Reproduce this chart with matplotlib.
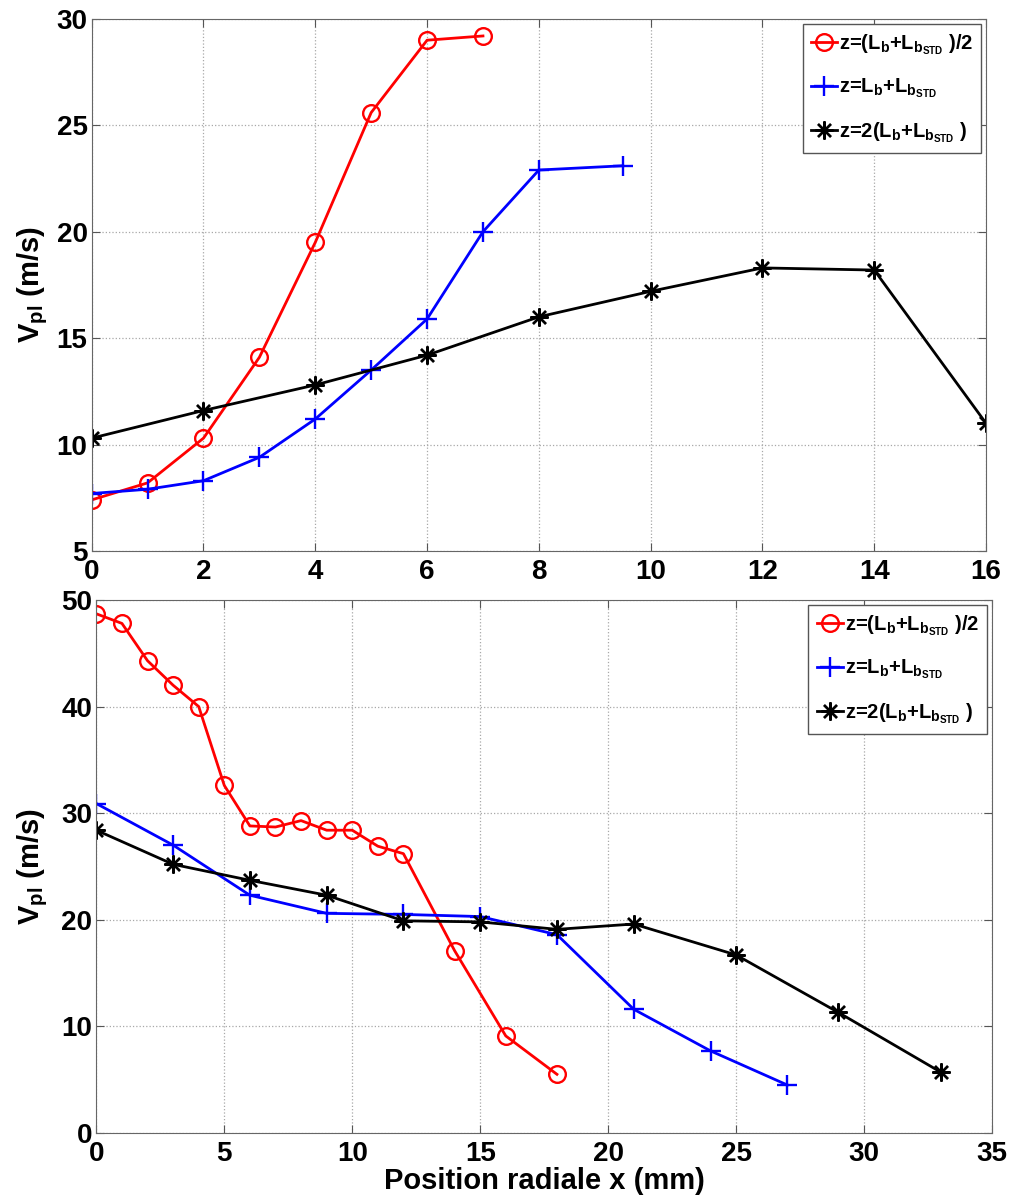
import matplotlib
matplotlib.use("Agg")
import matplotlib.pyplot as plt

plt.rcParams["font.family"] = ["Liberation Sans", "DejaVu Sans"]
plt.rcParams["font.weight"] = "bold"
plt.rcParams["mathtext.fontset"] = "custom"
plt.rcParams["mathtext.rm"] = "Liberation Sans:bold"
plt.rcParams["mathtext.it"] = "Liberation Sans:bold"
plt.rcParams["mathtext.bf"] = "Liberation Sans:bold"
plt.rcParams["mathtext.default"] = "rm"

# top panel data
x_top_red = [0, 1, 2, 3, 4, 5, 6, 7]
v_top_red = [7.4, 8.2, 10.3, 14.1, 19.5, 25.6, 29.0, 29.2]
x_top_blue = [0, 1, 2, 3, 4, 5, 6, 7, 8, 9.5]
v_top_blue = [7.7, 7.9, 8.3, 9.4, 11.2, 13.5, 15.9, 20.0, 22.9, 23.1]
x_top_black = [0, 2, 4, 6, 8, 10, 12, 14, 16]
v_top_black = [10.3, 11.6, 12.8, 14.2, 16.0, 17.2, 18.3, 18.2, 11.0]

# bottom panel data
x_bot_red = [0, 1, 2, 3, 4, 5, 6, 7, 8, 9, 10, 11, 12, 14, 16, 18]
v_bot_red = [48.7, 47.8, 44.3, 42.0, 40.0, 32.6, 28.8, 28.7, 29.3, 28.4, 28.4,
             26.9, 26.2, 17.1, 9.1, 5.5]
x_bot_blue = [0, 3, 6, 9, 12, 15, 18, 21, 24, 27]
v_bot_blue = [30.9, 27.0, 22.3, 20.6, 20.5, 20.3, 18.6, 11.6, 7.7, 4.5]
x_bot_black = [0, 3, 6, 9, 12, 15, 18, 21, 25, 29, 33]
v_bot_black = [28.4, 25.2, 23.7, 22.3, 19.9, 19.8, 19.1, 19.6, 16.7, 11.3, 5.7]

labels = [r"z=(L$_b$+L$_{b_{STD}}$ )/2",
          r"z=L$_b$+L$_{b_{STD}}$",
          r"z=2(L$_b$+L$_{b_{STD}}$ )"]

asterisk = (8, 2, 0)

fig = plt.figure(figsize=(10.11, 11.98), dpi=100)
ax1 = fig.add_axes([0.0907, 0.5401, 0.8846, 0.4441])
ax2 = fig.add_axes([0.0953, 0.0543, 0.8859, 0.4449])

def style(ax):
    ax.grid(True, linestyle=":", color="#a8a8a8", linewidth=0.9)
    ax.tick_params(direction="in", top=True, right=True, labelsize=20,
                   length=6, color="#555555")
    ax.tick_params(axis="y", pad=3)
    ax.tick_params(axis="x", pad=6)
    for s in ax.spines.values():
        s.set_color("#666666")
    for lab in ax.get_xticklabels() + ax.get_yticklabels():
        lab.set_fontweight("bold")

def draw(ax, xr, vr, xb, vb, xk, vk):
    ax.plot(xr, vr, color="red", marker="o", mfc="none", ms=12, mew=1.7,
            lw=2, label=labels[0])
    ax.plot(xb, vb, color="blue", marker="+", ms=15, mew=1.7, lw=2,
            label=labels[1])
    ax.plot(xk, vk, color="black", marker=asterisk, ms=13, mew=1.7, lw=2,
            label=labels[2])

draw(ax1, x_top_red, v_top_red, x_top_blue, v_top_blue, x_top_black, v_top_black)
ax1.set_xlim(0, 16)
ax1.set_ylim(5, 30)
ax1.set_xticks(range(0, 17, 2))
ax1.set_yticks(range(5, 31, 5))
ax1.set_ylabel(r"V$_{\rm pl}$ (m/s)", fontsize=21, fontweight="bold")
ax1.yaxis.set_label_coords(-0.047, 0.5)
style(ax1)

draw(ax2, x_bot_red, v_bot_red, x_bot_blue, v_bot_blue, x_bot_black, v_bot_black)
ax2.set_xlim(0, 35)
ax2.set_ylim(0, 50)
ax2.set_xticks(range(0, 36, 5))
ax2.set_yticks(range(0, 51, 10))
ax2.set_ylabel(r"V$_{\rm pl}$ (m/s)", fontsize=21, fontweight="bold")
ax2.yaxis.set_label_coords(-0.052, 0.5)
ax2.set_xlabel("Position radiale x (mm)", fontsize=21, fontweight="bold",
               labelpad=0)
style(ax2)

for ax in (ax1, ax2):
    leg = ax.legend(loc="upper right", fontsize=14.5, fancybox=False,
                    edgecolor="#555555", framealpha=1, handlelength=1.3,
                    handletextpad=0.1, labelspacing=1.0, borderpad=0.4,
                    borderaxespad=0.25)
    leg.get_frame().set_linewidth(1.0)

fig.savefig("out.png", dpi=100)
